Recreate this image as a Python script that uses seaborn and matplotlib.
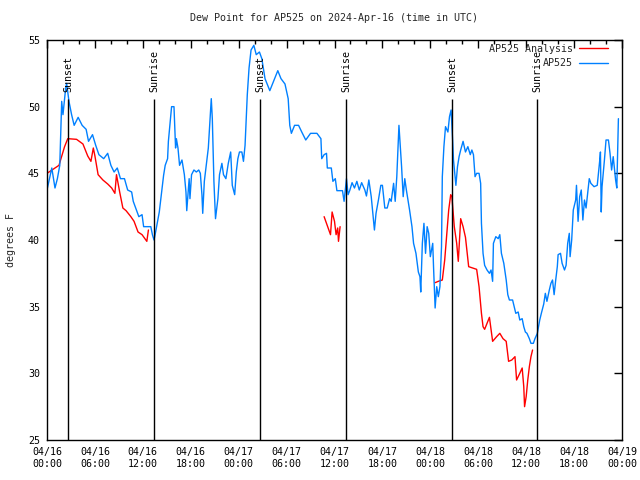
import numpy as np
import pandas as pd
import matplotlib
matplotlib.use("Agg")
import matplotlib.pyplot as plt
import matplotlib.dates as mdates
from matplotlib.lines import Line2D
import seaborn as sns

START = pd.Timestamp("2024-04-16 00:00")

# AP525 observations (hours after start, deg F)
obs_hours = [
    0.0, 0.6, 1.0, 1.3, 1.6, 1.84, 2.0, 2.34, 2.46, 2.75, 3.08, 3.4, 3.9, 4.4, 4.9,
    5.2, 5.7, 6.1, 6.5, 7.1, 7.6, 8.0, 8.4, 8.8, 9.2, 9.7, 10.1, 10.6, 10.8, 11.1,
    11.5, 11.9, 12.1, 13.0, 13.2, 13.4, 13.6, 14.06, 14.35, 14.6, 14.8, 15.1, 15.2,
    15.5, 15.6, 15.9, 16.1, 16.2, 16.4, 16.6, 16.9, 17.2, 17.4, 17.5, 17.8, 17.9,
    18.1, 18.4, 18.7, 19.0, 19.2, 19.4, 19.5, 19.7, 19.9, 20.2, 20.4, 20.57, 20.7,
    20.9, 21.1, 21.2, 21.4, 21.6, 21.9, 22.1, 22.4, 22.7, 23.0, 23.2, 23.5, 23.7,
    23.9, 24.1, 24.4, 24.6, 24.8, 25.08, 25.3, 25.55, 25.9, 26.2, 26.6, 26.9, 27.3,
    27.9, 28.5, 28.9, 29.3, 29.8, 30.2, 30.4, 30.6, 31.0, 31.5, 31.9, 32.4, 33.0,
    33.8, 34.3, 34.4, 34.7, 35.0, 35.1, 35.6, 35.8, 36.1, 36.3, 37.0, 37.2, 37.5,
    37.7, 37.9, 38.2, 38.5, 38.8, 39.1, 39.4, 39.8, 40.0, 40.3, 40.6, 41.0, 41.2,
    41.5, 41.8, 42.0, 42.3, 42.6, 42.9, 43.1, 43.4, 43.6, 43.8, 44.07, 44.2, 44.4,
    44.6, 44.8, 45.0, 45.4, 45.7, 45.9, 46.2, 46.5, 46.7, 46.8, 47.0, 47.2, 47.4,
    47.6, 47.8, 48.0, 48.3, 48.4, 48.6, 48.8, 49.0, 49.2, 49.4, 49.5, 49.7, 49.9,
    50.2, 50.4, 50.6, 50.8, 50.9, 51.2, 51.4, 51.6, 51.8, 52.1, 52.4, 52.7, 53.0,
    53.2, 53.4, 53.6, 53.8, 54.1, 54.3, 54.4, 54.6, 54.8, 55.1, 55.4, 55.6, 55.8,
    55.9, 56.2, 56.5, 56.7, 56.9, 57.2, 57.5, 57.7, 57.9, 58.3, 58.5, 58.7, 59.0,
    59.2, 59.5, 59.7, 59.9, 60.1, 60.4, 60.6, 60.9, 61.1, 61.4, 61.7, 61.9, 62.2,
    62.4, 62.6, 62.9, 63.1, 63.3, 63.5, 63.7, 63.9, 64.0, 64.3, 64.5, 64.8, 65.0,
    65.2, 65.4, 65.5, 65.7, 65.9, 66.2, 66.3, 66.5, 66.7, 66.9, 67.1, 67.3, 67.5,
    67.7, 67.9, 68.1, 68.5, 68.9, 69.2, 69.3, 69.4, 69.5, 69.8, 70.0, 70.3, 70.5,
    70.7, 70.9, 71.2, 71.35, 71.45, 71.55,
]
obs_dewpt = [
    43.75, 45.4, 43.9, 44.6, 45.6, 50.4, 49.4, 51.4, 51.75, 50.4, 49.4, 48.6, 49.2, 48.6, 48.3,
    47.4, 47.9, 47.1, 46.4, 46.1, 46.5, 45.6, 45.1, 45.4, 44.6, 44.6, 43.75, 43.6, 42.9, 42.4,
    41.75, 41.9, 41.0, 41.0, 40.4, 40.0, 40.6, 42.1, 43.6, 44.85, 45.6, 46.1, 47.4,
    49.4, 50.0, 50.0, 46.9, 47.6, 46.9, 45.6, 46.0, 44.9, 43.6, 42.2, 44.6, 43.1,
    44.9, 45.25, 45.1, 45.25, 45.0, 43.4, 42.0, 44.4, 45.4, 46.9, 48.9, 50.6, 49.1,
    44.4, 41.6, 42.1, 43.1, 44.9, 45.75, 44.9, 44.6, 45.75, 46.6, 44.1, 43.4, 45.1,
    46.1, 46.6, 46.6, 45.9, 47.1, 50.9, 52.9, 54.25, 54.6, 53.9, 54.1, 53.6, 52.1,
    51.2, 52.1, 52.7, 52.1, 51.7, 50.6, 48.6, 48.0, 48.6, 48.6, 48.1, 47.5, 48.0,
    48.0, 47.6, 46.1, 46.4, 46.5, 45.4, 45.4, 44.4, 44.6, 43.7, 43.7, 42.9, 44.6,
    43.4, 43.7, 44.3, 43.9, 44.4, 43.75, 44.3, 43.75, 43.3, 44.5, 43.25, 40.75, 42.0,
    43.0, 44.1, 44.1, 42.4, 42.4, 43.1, 42.9, 44.25, 42.9, 44.75, 48.6, 47.4, 45.5,
    43.25, 44.6, 43.75, 42.25, 41.0, 39.75, 39.0, 37.6, 37.25, 36.1, 39.75, 41.25, 39.0,
    41.0, 40.5, 38.75, 39.75, 38.0, 34.9, 36.5, 35.75, 36.5, 39.5, 44.75, 47.0, 48.5,
    48.1, 49.25, 49.75, 47.4, 46.0, 44.1, 45.5, 46.25, 46.75, 47.4, 46.6, 47.0, 46.4,
    46.75, 46.4, 44.75, 45.0, 45.0, 44.25, 41.25, 39.0, 38.1, 37.75, 37.5, 37.75, 36.9,
    39.75, 40.25, 40.1, 40.4, 39.0, 38.25, 37.0, 35.9, 35.5, 35.5, 35.0, 34.5, 34.6,
    34.0, 34.1, 33.5, 33.1, 33.0, 32.6, 32.25, 32.25, 32.6, 33.0, 34.0, 34.5, 35.2,
    36.0, 35.4, 36.25, 36.75, 37.0, 35.9, 37.0, 38.0, 38.9, 39.0, 38.25, 37.75, 38.1,
    39.75, 40.5, 38.75, 40.0, 42.25, 43.0, 44.1, 41.4, 43.25, 43.75, 41.5, 43.0, 42.4,
    43.5, 44.6, 44.25, 44.0, 44.1, 45.9, 46.6, 42.1, 44.0, 46.0, 47.5, 47.5, 46.5,
    45.25, 46.25, 44.5, 43.9, 46.5, 49.1,
]

# AP525 Analysis, three separate stretches
ana_hours = [
    [0.0, 1.0, 1.5, 2.2, 2.6, 3.7, 4.5, 5.1, 5.5, 5.8, 6.0, 6.4, 7.0, 7.6, 8.1, 8.5,
     8.7, 9.1, 9.5, 9.9, 10.5, 10.9, 11.4, 11.9, 12.5, 12.7],
    [34.7, 35.5, 35.7, 36.0, 36.2, 36.4, 36.5, 36.7],
    [48.6, 49.0, 49.5, 49.8, 50.1, 50.3, 50.55, 50.7, 50.8, 51.0, 51.3, 51.5, 51.7,
     51.8, 52.1, 52.4, 52.8, 53.3, 53.8, 54.1, 54.4, 54.6, 54.8, 55.1, 55.4, 55.8,
     56.3, 56.7, 57.1, 57.5, 57.8, 58.2, 58.6, 58.8, 59.2, 59.5, 59.7, 59.8, 60.0,
     60.2, 60.4, 60.6, 60.8],
]
ana_dewpt = [
    [45.0, 45.4, 45.6, 47.0, 47.6, 47.55, 47.2, 46.3, 45.9, 46.9, 46.3, 44.9, 44.5,
     44.2, 43.9, 43.5, 44.9, 43.6, 42.4, 42.2, 41.75, 41.4, 40.6, 40.4, 39.9, 40.75],
    [41.75, 40.4, 42.1, 41.4, 40.4, 40.9, 39.9, 41.0],
    [36.8, 36.9, 37.0, 38.5, 40.75, 42.25, 43.4, 43.25, 42.5, 41.0, 39.75, 38.4, 40.5,
     41.6, 41.0, 40.2, 38.0, 37.9, 37.8, 36.5, 34.5, 33.5, 33.3, 33.75, 34.2, 32.4,
     32.75, 33.0, 32.6, 32.4, 30.9, 31.0, 31.25, 29.5, 30.0, 30.4, 29.0, 27.5, 28.25,
     29.5, 30.5, 31.25, 31.75],
]

sun_hours = [2.63, 13.40, 26.67, 37.44, 50.71, 61.36]
sun_labels = ["Sunset", "Sunrise", "Sunset", "Sunrise", "Sunset", "Sunrise"]

RED = "#ff0000"
BLUE = "#0080ff"
FS = 7.2


def to_time(hours):
    return START + pd.to_timedelta(np.asarray(hours, dtype=float), unit="h")


obs_df = pd.DataFrame({"time": to_time(obs_hours), "dewpt": obs_dewpt})
ana_df = pd.concat(
    [pd.DataFrame({"time": to_time(h), "dewpt": v, "seg": i})
     for i, (h, v) in enumerate(zip(ana_hours, ana_dewpt))],
    ignore_index=True,
)

sns.set_style("white")
plt.rcParams["font.family"] = ["DejaVu Sans Mono"]
plt.rcParams["font.size"] = FS

fig = plt.figure(figsize=(6.4, 4.8), dpi=100)
ax = fig.add_axes([47 / 640, 40 / 480, 575 / 640, 400 / 480])

sns.lineplot(data=ana_df, x="time", y="dewpt", units="seg", estimator=None,
             color=RED, lw=1, ax=ax, legend=False)
sns.lineplot(data=obs_df, x="time", y="dewpt", estimator=None,
             color=BLUE, lw=1, ax=ax, legend=False)

for h, lab in zip(sun_hours, sun_labels):
    t = to_time([h])[0]
    ax.vlines(t, 25, 50.6, color="black", lw=1, zorder=5)
    ax.text(t, 51.1, lab, rotation=90, ha="center", va="bottom",
            color="black", fontsize=FS)

ax.set_xlim(START, START + pd.Timedelta(hours=72))
ax.set_ylim(25, 55)
ax.set_yticks(range(25, 56, 5))
ax.xaxis.set_major_locator(mdates.HourLocator(byhour=range(0, 24, 6)))
ax.xaxis.set_minor_locator(mdates.HourLocator(byhour=range(0, 24, 2)))
ax.xaxis.set_major_formatter(mdates.DateFormatter("%m/%d\n%H:%M"))
ax.tick_params(which="both", direction="in", top=True, right=True, width=1,
               colors="black", labelsize=FS)
ax.tick_params(which="major", length=6, pad=5)
ax.tick_params(which="minor", length=3)
for s in ax.spines.values():
    s.set_color("black")
    s.set_linewidth(1)

ax.set_xlabel("")
ax.set_ylabel("degrees F", fontsize=FS, labelpad=9)
ax.set_title("Dew Point for AP525 on 2024-Apr-16 (time in UTC)", pad=14, fontsize=FS)

handles = [Line2D([], [], color=RED, lw=1), Line2D([], [], color=BLUE, lw=1)]
ax.legend(handles, ["AP525 Analysis", "AP525"], loc="upper right",
          bbox_to_anchor=(0.988, 1.008), frameon=False, fontsize=FS,
          markerfirst=False, handlelength=2.9, handletextpad=0.6,
          labelspacing=0.45, borderaxespad=0.3)

fig.savefig("out.png", dpi=100)
